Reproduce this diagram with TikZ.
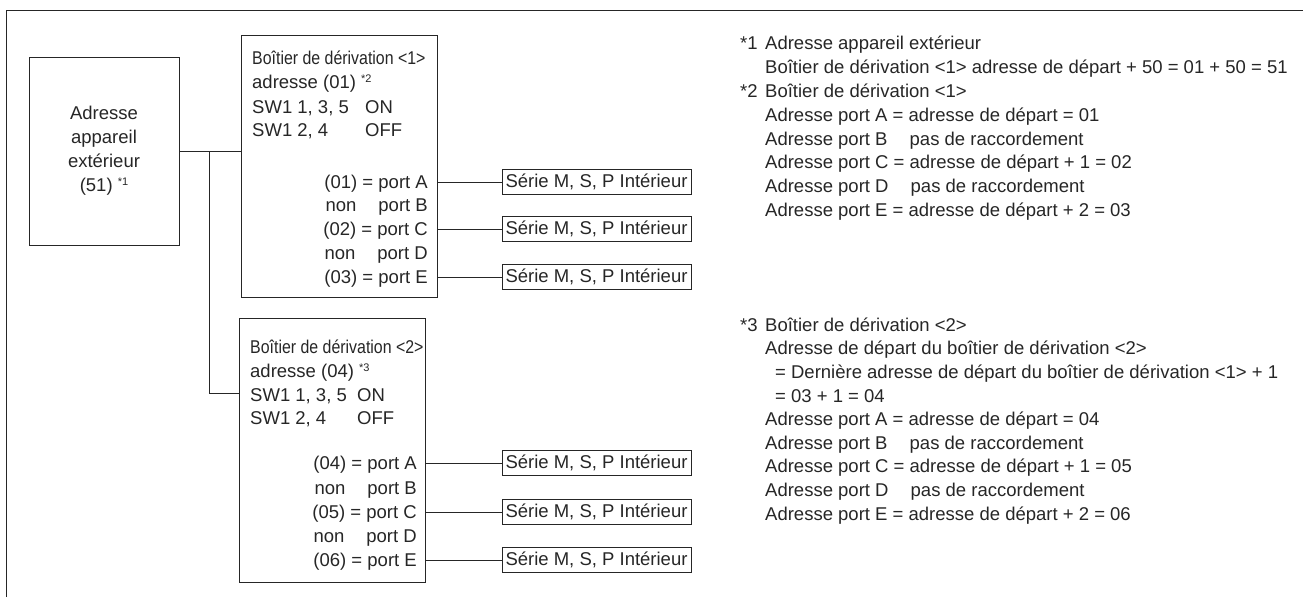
\documentclass[tikz,border=0pt]{standalone}
\usepackage{fontspec}
\setmainfont{Liberation Sans}
\newfontfamily\narrowsans[FakeStretch=0.86]{Liberation Sans}
\usetikzlibrary{positioning}

\newcommand{\supref}[1]{\raisebox{6pt}{\fontsize{11}{11}\selectfont #1}}

\begin{document}
\begin{tikzpicture}[x=1pt, y=-1pt,
    every node/.style={font=\fontsize{18.5}{24}\selectfont, text=black!85},
    box/.style={draw=black!85, line width=0.9pt, inner sep=0pt},
    unit/.style={box, minimum width=189pt, minimum height=25pt},
    txt/.style={inner sep=0pt, text height=13pt, text depth=0pt},
    head/.style={txt, anchor=west, font=\narrowsans\fontsize{18.5}{24}\selectfont},
    wire/.style={draw=black!85, line width=0.9pt}]
    \useasboundingbox (0,0) rectangle (1303,597);
    % open frame
    \draw[wire] (6,597) -- (6,10) -- (1303,10);

    % outdoor unit
    \node[box, minimum width=150pt, minimum height=188pt, align=center] (odu) at (104,151)
        {Adresse\\appareil\\extérieur\\(51) \supref{*1}};

    % branch box 1
    \node[box, minimum width=196pt, minimum height=262pt] (bd1) at (339,166) {};
    \node[head] (bd1title) at (252,58) {Boîtier de dérivation <1>};
    \node[txt, anchor=west] (bd1addr) at (252,82) {adresse (01) \supref{*2}};
    \node[txt, anchor=west] (bd1sw1) at (252,107) {SW1 1, 3, 5};
    \node[txt, anchor=west] (bd1on) at (365,107) {ON};
    \node[txt, anchor=west] (bd1sw2) at (252,130) {SW1 2, 4};
    \node[txt, anchor=west] (bd1off) at (365,130) {OFF};
    \node[txt, anchor=east] (p1a) at (428,182) {(01) = port A};
    \node[txt, anchor=east] (p1b) at (428,205) {non\hspace{22pt}port B};
    \node[txt, anchor=east] (p1c) at (428,229) {(02) = port C};
    \node[txt, anchor=east] (p1d) at (428,253) {non\hspace{22pt}port D};
    \node[txt, anchor=east] (p1e) at (428,277) {(03) = port E};

    % branch box 2
    \node[box, minimum width=186pt, minimum height=264pt] (bd2) at (332,450) {};
    \node[head] (bd2title) at (250,347) {Boîtier de dérivation <2>};
    \node[txt, anchor=west] (bd2addr) at (250,371) {adresse (04) \supref{*3}};
    \node[txt, anchor=west] (bd2sw1) at (250,395) {SW1 1, 3, 5};
    \node[txt, anchor=west] (bd2on) at (357,395) {ON};
    \node[txt, anchor=west] (bd2sw2) at (250,418) {SW1 2, 4};
    \node[txt, anchor=west] (bd2off) at (357,418) {OFF};
    \node[txt, anchor=east] (p2a) at (417,463) {(04) = port A};
    \node[txt, anchor=east] (p2b) at (417,488) {non\hspace{22pt}port B};
    \node[txt, anchor=east] (p2c) at (417,512) {(05) = port C};
    \node[txt, anchor=east] (p2d) at (417,536) {non\hspace{22pt}port D};
    \node[txt, anchor=east] (p2e) at (417,560) {(06) = port E};

    % indoor units
    \node[unit] (u1a) at (596.5,182) {Série M, S, P Intérieur};
    \node[unit] (u1c) at (596.5,229) {Série M, S, P Intérieur};
    \node[unit] (u1e) at (596.5,277) {Série M, S, P Intérieur};
    \node[unit] (u2a) at (596.5,463) {Série M, S, P Intérieur};
    \node[unit] (u2c) at (596.5,512) {Série M, S, P Intérieur};
    \node[unit] (u2e) at (596.5,560) {Série M, S, P Intérieur};

    % wiring
    \coordinate (tap) at (209,151);
    \draw[wire] (odu.east) -- (bd1.west |- odu.east);
    \draw[wire] (tap) |- ([yshift=57pt]bd2.west);
    \draw[wire] (bd1.east |- p1a) -- (u1a.west);
    \draw[wire] (bd1.east |- p1c) -- (u1c.west);
    \draw[wire] (bd1.east |- p1e) -- (u1e.west);
    \draw[wire] (bd2.east |- p2a) -- (u2a.west);
    \draw[wire] (bd2.east |- p2c) -- (u2c.west);
    \draw[wire] (bd2.east |- p2e) -- (u2e.west);

    % notes *1 and *2
    \node[txt, anchor=west] (m1) at (740,43) {*1};
    \node[txt, anchor=west] (n1a) at (765,43) {Adresse appareil extérieur};
    \node[txt, anchor=west] (n1b) at (765,67) {Boîtier de dérivation <1> adresse de départ + 50 = 01 + 50 = 51};
    \node[txt, anchor=west] (m2) at (740,91) {*2};
    \node[txt, anchor=west] (n2a) at (765,91) {Boîtier de dérivation <1>};
    \node[txt, anchor=west] (n2b) at (765,115) {Adresse port A = adresse de départ = 01};
    \node[txt, anchor=west] (n2c) at (765,139) {Adresse port B\hspace{17pt} pas de raccordement};
    \node[txt, anchor=west] (n2d) at (765,162) {Adresse port C = adresse de départ + 1 = 02};
    \node[txt, anchor=west] (n2e) at (765,186) {Adresse port D\hspace{17pt} pas de raccordement};
    \node[txt, anchor=west] (n2f) at (765,210) {Adresse port E = adresse de départ + 2 = 03};

    % note *3
    \node[txt, anchor=west] (m3) at (740,325) {*3};
    \node[txt, anchor=west] (n3a) at (765,325) {Boîtier de dérivation <2>};
    \node[txt, anchor=west] (n3b) at (765,348) {Adresse de départ du boîtier de dérivation <2>};
    \node[txt, anchor=west] (n3c) at (775,372) {= Dernière adresse de départ du boîtier de dérivation <1> + 1};
    \node[txt, anchor=west] (n3d) at (775,396) {= 03 + 1 = 04};
    \node[txt, anchor=west] (n3e) at (765,419) {Adresse port A = adresse de départ = 04};
    \node[txt, anchor=west] (n3f) at (765,443) {Adresse port B\hspace{17pt} pas de raccordement};
    \node[txt, anchor=west] (n3g) at (765,466) {Adresse port C = adresse de départ + 1 = 05};
    \node[txt, anchor=west] (n3h) at (765,490) {Adresse port D\hspace{17pt} pas de raccordement};
    \node[txt, anchor=west] (n3i) at (765,514) {Adresse port E = adresse de départ + 2 = 06};
\end{tikzpicture}
\end{document}
